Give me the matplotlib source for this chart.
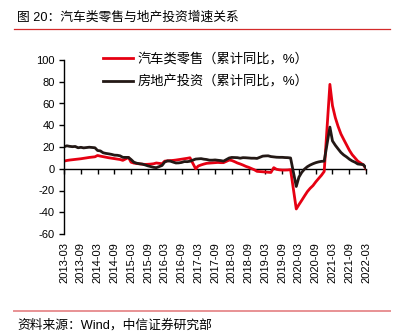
import matplotlib
matplotlib.use("Agg")
import matplotlib.pyplot as plt
import matplotlib.dates as mdates
from matplotlib.lines import Line2D
import pandas as pd

plt.rcParams['font.family'] = ['Liberation Sans', 'Noto Sans CJK SC', 'DejaVu Sans']

title = "图 20：汽车类零售与地产投资增速关系"
source = "资料来源：Wind，中信证券研究部"
series_names = ["汽车类零售（累计同比，%）", "房地产投资（累计同比，%）"]

months = (
    ["2013-%02d" % m for m in range(3, 13)]
    + ["%d-%02d" % (y, m) for y in range(2014, 2022) for m in range(2, 13)]
    + ["2022-02", "2022-03"]
)

auto_retail = [
    7.0, 7.6, 8.0, 8.3, 8.6, 8.9, 9.2, 9.6, 10.0, 10.4,            # 2013 Mar-Dec
    11.0, 12.2, 11.6, 11.1, 10.6, 10.1, 9.7, 9.3, 8.9, 8.5, 7.7,   # 2014
    10.4, 6.0, 5.2, 4.8, 4.5, 4.2, 4.0, 4.1, 4.3, 4.6, 5.3,        # 2015
    4.6, 7.0, 7.3, 7.5, 7.7, 8.0, 8.4, 8.8, 9.2, 9.6, 10.1,        # 2016
    0.0, 2.5, 3.5, 4.3, 5.0, 5.2, 5.4, 5.6, 5.8, 5.6, 5.6,         # 2017
    8.0, 7.6, 6.5, 5.3, 4.4, 3.4, 2.2, 1.3, 0.2, -0.9, -2.4,       # 2018
    -2.8, -3.0, -3.2, -3.4, 1.0, -0.5, -1.0, -1.2, -1.2, -1.1, -0.8,  # 2019
    -37.0, -33.0, -29.0, -25.0, -21.0, -18.0, -15.5, -12.0, -9.0, -6.0, -2.5,  # 2020
    77.6, 58.0, 47.0, 39.0, 32.0, 27.0, 22.0, 17.0, 13.0, 10.0, 7.0,  # 2021
    3.5, 0.0,                                                       # 2022
]

property_invest = [
    20.2, 21.1, 20.6, 20.3, 20.5, 19.3, 19.7, 19.2, 19.5, 19.8,
    19.3, 16.8, 16.4, 14.7, 14.1, 13.7, 13.2, 12.5, 12.4, 11.9, 10.5,
    10.4, 8.5, 6.0, 5.1, 4.6, 4.3, 3.5, 2.6, 2.0, 1.3, 1.0,
    3.0, 6.2, 7.2, 7.0, 6.1, 5.3, 5.4, 5.8, 6.6, 6.5, 6.9,
    8.9, 9.1, 9.3, 8.8, 8.5, 7.9, 7.9, 8.1, 7.8, 7.5, 7.0,
    9.9, 10.4, 10.3, 10.2, 9.7, 10.2, 10.1, 9.9, 9.7, 9.7, 9.5,
    11.6, 11.8, 11.9, 11.2, 10.9, 10.6, 10.5, 10.5, 10.3, 10.2, 9.9,
    -16.3, -7.7, -3.3, -0.3, 1.9, 3.4, 4.6, 5.6, 6.3, 6.8, 7.0,
    38.3, 25.6, 21.6, 18.3, 15.0, 12.7, 10.9, 8.8, 7.2, 6.0, 4.4,
    3.7, 0.7,
]

tick_labels = ["2013-03", "2013-09", "2014-03", "2014-09", "2015-03", "2015-09",
               "2016-03", "2016-09", "2017-03", "2017-09", "2018-03", "2018-09",
               "2019-03", "2019-09", "2020-03", "2020-09", "2021-03", "2021-09",
               "2022-03"]
y_ticks = [-60, -40, -20, 0, 20, 40, 60, 80, 100]

W, H = 398, 336
fig = plt.figure(figsize=(W / 100, H / 100), dpi=100)

x = mdates.date2num(pd.to_datetime(months, format="%Y-%m"))
xt = mdates.date2num(pd.to_datetime(tick_labels, format="%Y-%m"))

ax = fig.add_axes([64 / W, 1 - 234 / H, (366 - 64) / W, (234 - 60) / H])
l1, = ax.plot(x, auto_retail, color="#e60012", lw=2.0, solid_joinstyle="round")
l2, = ax.plot(x, property_invest, color="#231815", lw=2.0, solid_joinstyle="round")

ax.set_xlim(xt[0], xt[-1])
ax.set_ylim(-60, 100)
ax.set_yticks(y_ticks)
ax.set_yticklabels([str(v) for v in y_ticks])
ax.set_xticks(xt)
ax.set_xticklabels(tick_labels, rotation=90, fontsize=8)
ax.tick_params(axis="x", length=0, pad=6)
ax.tick_params(axis="y", direction="out", length=3.5, width=1, pad=3, labelsize=8)
for s in ["top", "right", "bottom"]:
    ax.spines[s].set_visible(False)
ax.spines["left"].set_linewidth(1)
ax.set_facecolor("none")

sec = ax.secondary_xaxis(60 / 160)
sec.set_xticks(xt)
sec.set_xticklabels([])
sec.tick_params(axis="x", direction="out", length=3.5, width=1)
sec.spines["bottom"].set_linewidth(1)

fig.legend([l1, l2], series_names, loc="upper left",
           bbox_to_anchor=(103 / W, 1 - 53 / H), frameon=False, borderpad=0,
           borderaxespad=0, handlelength=2.3, handletextpad=0.3,
           labelspacing=0.75, fontsize=9.5)

fig.text(17 / W, 1 - 18 / H, title, fontsize=9.2, va="center", ha="left")
fig.add_artist(Line2D([14 / W, 390 / W], [1 - 29 / H, 1 - 29 / H],
                      color="#d42a2a", lw=0.9, transform=fig.transFigure))
fig.add_artist(Line2D([14 / W, 390 / W], [1 - 310.5 / H, 1 - 310.5 / H],
                      color="#e89294", lw=1.4, transform=fig.transFigure))
fig.text(17 / W, 1 - 325 / H, source, fontsize=9.2, va="center", ha="left")

fig.savefig("out.png", dpi=100)
